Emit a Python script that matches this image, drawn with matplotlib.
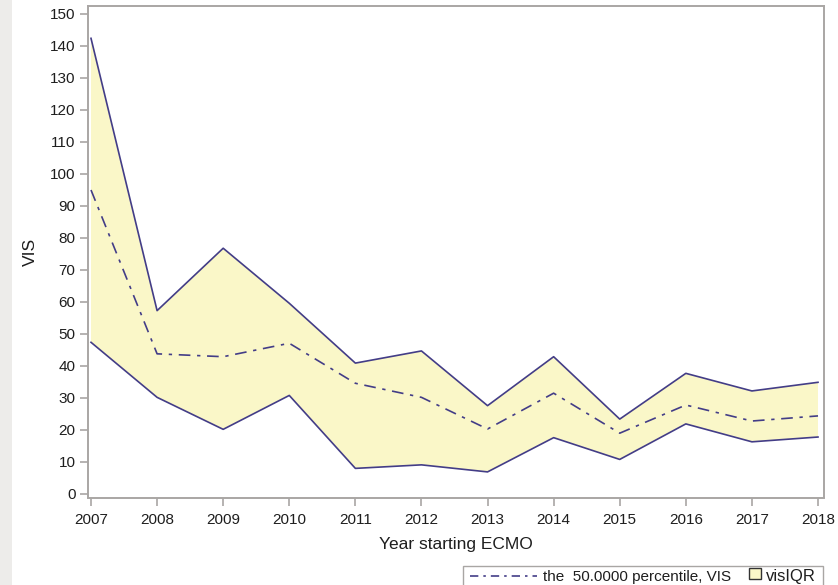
import matplotlib
matplotlib.use("Agg")
import matplotlib.pyplot as plt
from matplotlib.patches import Rectangle
from matplotlib.lines import Line2D

years = [2007, 2008, 2009, 2010, 2011, 2012, 2013, 2014, 2015, 2016, 2017, 2018]
vis_q3 = [142.4, 57.3, 76.8, 59.6, 40.9, 44.7, 27.6, 42.9, 23.4, 37.7, 32.2, 34.9]
vis_median = [95.0, 43.8, 42.9, 47.1, 34.6, 30.2, 20.3, 31.5, 19.0, 27.8, 22.8, 24.4]
vis_q1 = [47.4, 30.2, 20.2, 30.8, 8.0, 9.1, 6.9, 17.6, 10.8, 21.9, 16.3, 17.8]
y_ticks = list(range(0, 151, 10))
legend_labels = ["the  50.0000 percentile, VIS", "visIQR"]

line_color = "#433d87"
fill_color = "#faf7c8"
axis_color = "#a9a6a4"
text_color = "#1e1e1e"

plt.rcParams["font.family"] = ["Liberation Sans", "DejaVu Sans"]

W, H = 838, 585
fig = plt.figure(figsize=(W / 100, H / 100), dpi=100)
fig.patch.set_facecolor("white")


def fx(px):
    return px / W


def fy(py):
    return 1 - py / H


# light gray margin strip on the left
fig.add_artist(Rectangle((0, 0), fx(12), 1, transform=fig.transFigure,
                         facecolor="#edecea", edgecolor="none", zorder=0))

ax = fig.add_axes([fx(88), fy(497.5), fx(824 - 88), (497.5 - 6) / H])
ax.fill_between(years, vis_q1, vis_q3, facecolor=fill_color, edgecolor="none", zorder=1)
ax.plot(years, vis_q3, color=line_color, lw=1.2, zorder=3)
ax.plot(years, vis_q1, color=line_color, lw=1.2, zorder=3)
ax.plot(years, vis_median, color=line_color, lw=1.2,
        linestyle=(0, (7, 4, 2, 4)), zorder=3)

ax.set_xlim(2007 - 3 / 66.1, 2018 + 6 / 66.1)
ax.set_ylim(-1.1, 152.5)
ax.set_xticks(years)
ax.set_xticklabels([str(y) for y in years])
ax.set_yticks(y_ticks)

for side in ["left", "right", "top", "bottom"]:
    ax.spines[side].set_color(axis_color)
    ax.spines[side].set_linewidth(1.4)
ax.tick_params(axis="both", colors=axis_color, direction="out", length=6, width=1.2,
               labelcolor=text_color, labelsize=11, pad=3)
ax.tick_params(axis="x", pad=5)

ax.set_xlabel("Year starting ECMO", fontsize=12.5, color=text_color, labelpad=7)
ax.set_ylabel("VIS", fontsize=12.5, color=text_color, labelpad=9)

# legend panel along the bottom edge
fig.add_artist(Rectangle((fx(463), fy(588)), fx(823 - 463), (588 - 566) / H,
                         transform=fig.transFigure, facecolor="white",
                         edgecolor=axis_color, lw=1.0, zorder=5))
fig.add_artist(Line2D([fx(470), fx(537)], [fy(576), fy(576)],
                      transform=fig.transFigure, color=line_color, lw=1.2,
                      linestyle=(0, (5, 3, 1.5, 3)), zorder=6))
fig.text(fx(543), fy(576.5), legend_labels[0], fontsize=11, color=text_color,
         ha="left", va="center", zorder=6)
fig.add_artist(Rectangle((fx(749), fy(579)), fx(12), 11 / H,
                         transform=fig.transFigure, facecolor=fill_color,
                         edgecolor="#333333", lw=1.0, zorder=6))
fig.text(fx(766), fy(576.5), legend_labels[1], fontsize=12, color=text_color,
         ha="left", va="center", zorder=6)

fig.savefig("out.png", dpi=100, facecolor="white")
